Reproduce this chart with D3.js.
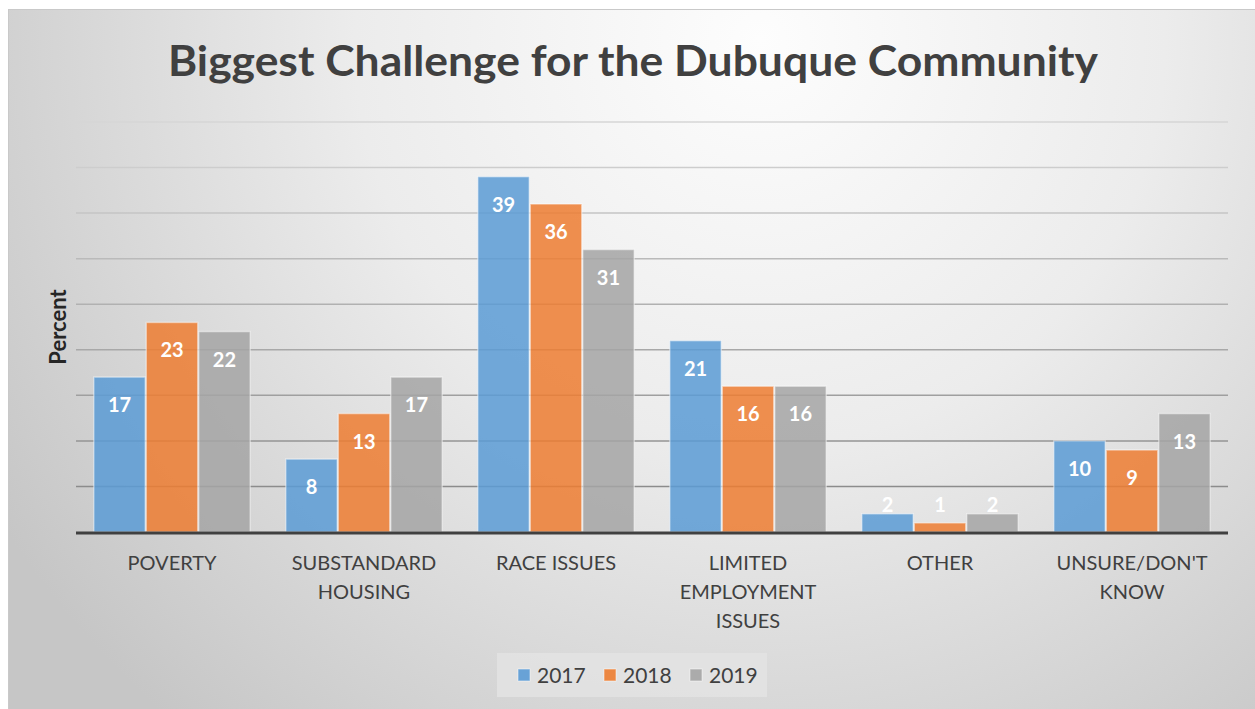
<!DOCTYPE html>
<html>
<head>
<meta charset="utf-8">
<script src="https://cdn.jsdelivr.net/npm/d3@7"></script>
<style>
  body { margin: 0; background: #fff; }
  svg text { font-family: Lato, "Open Sans", sans-serif; }
</style>
</head>
<body>
<div id="chart"></div>
<script>
// data
var categories = ["POVERTY", "SUBSTANDARD HOUSING", "RACE ISSUES", "LIMITED EMPLOYMENT ISSUES", "OTHER", "UNSURE/DON'T KNOW"];
var years = ["2017", "2018", "2019"];
var v2017 = [17, 8, 39, 21, 2, 10];
var v2018 = [23, 13, 36, 16, 1, 9];
var v2019 = [22, 17, 31, 16, 2, 13];
var yTicks = [0, 5, 10, 15, 20, 25, 30, 35, 40, 45];

var series = [v2017, v2018, v2019];
var colors = ["#5b9bd5", "#ed7d31", "#a5a5a5"];

var width = 1255, height = 709;
var margin = {left: 76, right: 27, top: 122, bottom: 177};

var svg = d3.select("#chart").append("svg")
    .attr("width", width)
    .attr("height", height);

var defs = svg.append("defs");
var grad = defs.append("radialGradient")
    .attr("id", "bg")
    .attr("gradientUnits", "userSpaceOnUse")
    .attr("cx", 760).attr("cy", 40).attr("r", 900);
grad.append("stop").attr("offset", "0").attr("stop-color", "#fdfdfd");
grad.append("stop").attr("offset", "0.45").attr("stop-color", "#ececec");
grad.append("stop").attr("offset", "1").attr("stop-color", "#c6c6c6");

svg.append("rect")
    .attr("x", 8).attr("y", 9)
    .attr("width", width - 8).attr("height", height - 9)
    .attr("fill", "url(#bg)");
svg.append("line")
    .attr("x1", 8).attr("x2", width).attr("y1", 9.5).attr("y2", 9.5)
    .attr("stroke", "#c9c9c9");
svg.append("line")
    .attr("x1", 8.5).attr("x2", 8.5).attr("y1", 9).attr("y2", height)
    .attr("stroke", "#c9c9c9");

var x0 = d3.scaleBand()
    .domain(categories)
    .range([margin.left, width - margin.right])
    .paddingInner(0.18)
    .paddingOuter(0.09);

var x1 = d3.scaleBand()
    .domain(years)
    .range([0, x0.bandwidth()]);

var y = d3.scaleLinear()
    .domain([0, 45])
    .range([height - margin.bottom, margin.top]);

// gridlines, a bit darker toward the bottom
var gridShade = d3.scaleLinear().domain([45, 5]).range(["#d6d6d6", "#8c8c8c"]);
svg.append("g").selectAll("line")
    .data(yTicks.filter(function(d) { return d > 0; }))
    .enter().append("line")
    .attr("x1", margin.left).attr("x2", width - margin.right)
    .attr("y1", function(d) { return y(d); })
    .attr("y2", function(d) { return y(d); })
    .attr("stroke", function(d) { return gridShade(d); })
    .attr("stroke-width", 1.5);

// bars
var groups = svg.append("g").selectAll("g")
    .data(categories)
    .enter().append("g")
    .attr("transform", function(d) { return "translate(" + x0(d) + ",0)"; });

groups.selectAll("rect")
    .data(function(d, i) { return years.map(function(yr, k) { return {year: yr, k: k, v: series[k][i]}; }); })
    .enter().append("rect")
    .attr("x", function(d) { return x1(d.year) + 0.5; })
    .attr("width", x1.bandwidth() - 1)
    .attr("y", function(d) { return y(d.v); })
    .attr("height", function(d) { return y(0) - y(d.v); })
    .attr("fill", function(d) { return colors[d.k]; })
    .attr("fill-opacity", 0.85)
    .attr("stroke", "#ffffff")
    .attr("stroke-opacity", 0.45)
    .attr("stroke-width", 1.5);

groups.selectAll("text")
    .data(function(d, i) { return years.map(function(yr, k) { return {year: yr, k: k, v: series[k][i]}; }); })
    .enter().append("text")
    .attr("x", function(d) { return x1(d.year) + x1.bandwidth() / 2; })
    .attr("y", function(d) { return Math.min(y(d.v) + 28, y(0) - 27); })
    .attr("dy", "0.35em")
    .attr("text-anchor", "middle")
    .attr("fill", "#ffffff")
    .attr("font-weight", "bold")
    .attr("font-size", "20px")
    .text(function(d) { return d.v; });

// baseline
svg.append("line")
    .attr("x1", margin.left).attr("x2", width - margin.right)
    .attr("y1", y(0) + 1).attr("y2", y(0) + 1)
    .attr("stroke", "#404040")
    .attr("stroke-width", 3);

// category labels
var xAxis = d3.axisBottom(x0).tickSize(0).tickPadding(0);
var ax = svg.append("g")
    .attr("transform", "translate(0," + y(0) + ")")
    .call(xAxis);
ax.select(".domain").remove();
ax.selectAll("text")
    .attr("font-size", "20px")
    .attr("fill", "#404040")
    .attr("y", 38)
    .attr("dy", 0)
    .call(wrap, 165);

function wrap(texts, w) {
  texts.each(function() {
    var text = d3.select(this),
        words = text.text().split(/\s+/),
        line = [],
        lineNo = 0,
        ty = text.attr("y"),
        tspan = text.text(null).append("tspan").attr("x", 0).attr("y", ty);
    words.forEach(function(word) {
      line.push(word);
      tspan.text(line.join(" "));
      if (tspan.node().getComputedTextLength() > w && line.length > 1) {
        line.pop();
        tspan.text(line.join(" "));
        line = [word];
        lineNo++;
        tspan = text.append("tspan").attr("x", 0).attr("y", +ty + lineNo * 29).text(word);
      }
    });
  });
}

// y axis title
svg.append("text")
    .attr("transform", "translate(66,327) rotate(-90)")
    .attr("text-anchor", "middle")
    .attr("font-size", "22px")
    .attr("font-weight", "bold")
    .attr("fill", "#262626")
    .text("Percent");

// title
svg.append("text")
    .attr("x", 633)
    .attr("y", 76)
    .attr("text-anchor", "middle")
    .attr("font-size", "42px")
    .attr("font-weight", "bold")
    .attr("fill", "#404040")
    .attr("textLength", 930)
    .attr("lengthAdjust", "spacingAndGlyphs")
    .text("Biggest Challenge for the Dubuque Community");

// legend
svg.append("rect")
    .attr("x", 497).attr("y", 653)
    .attr("width", 270).attr("height", 44)
    .attr("fill", "#e4e4e4")
    .attr("fill-opacity", 0.8);

var leg = svg.append("g").selectAll("g")
    .data(years)
    .enter().append("g")
    .attr("transform", function(d, i) { return "translate(" + (518 + i * 86) + ",669)"; });
leg.append("rect")
    .attr("width", 12).attr("height", 12)
    .attr("fill", function(d, i) { return colors[i]; })
    .attr("fill-opacity", 0.9)
    .attr("stroke", "#ffffff")
    .attr("stroke-opacity", 0.5);
leg.append("text")
    .attr("x", 19)
    .attr("y", 6)
    .attr("dy", "0.36em")
    .attr("font-size", "21px")
    .attr("fill", "#404040")
    .text(function(d) { return d; });
</script>
</body>
</html>
